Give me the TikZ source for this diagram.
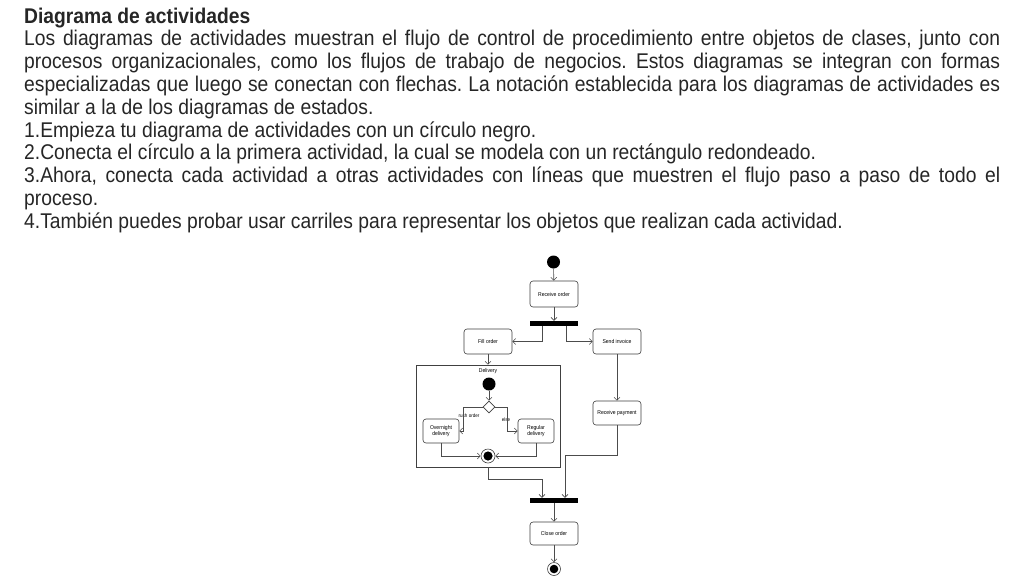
\documentclass[tikz,border=0pt]{standalone}
\usepackage{fontspec}
\setmainfont[FakeStretch=0.905]{Liberation Sans}
\usetikzlibrary{arrows.meta,shapes.geometric,calc}
\frenchspacing
\tikzset{
  txt/.style={anchor=base west,inner sep=0pt,text=black!85},
  act/.style={draw=black!75,line width=0.6pt,rounded corners=3pt,fill=white,minimum width=48pt,align=center,font=\fontsize{5.6}{6.4}\selectfont,inner sep=1pt,text=black},
  bar/.style={fill=black,draw=none,minimum width=48pt,minimum height=5pt,inner sep=0pt},
  flow/.style={draw=black!70,line width=0.6pt,-{Straight Barb[length=3pt,width=6pt]}},
  lbl/.style={font=\fontsize{5}{5.5}\selectfont,inner sep=0.5pt,text=black},
}
\newcommand{\jline}[1]{\makebox[976pt][s]{#1}}
\begin{document}
\begin{tikzpicture}[x=1pt,y=-1pt]
\useasboundingbox (0,0) rectangle (1024,576);
\fill[white] (0,0) rectangle (1024,576);
\begin{scope}[font=\fontsize{21.3}{22.8}\selectfont]
\node[txt,font=\fontsize{21.3}{22.8}\selectfont\bfseries] (t0) at (24,23) {Diagrama de actividades};
\node[txt] (t1) at (24,45.8) {\jline{Los diagramas de actividades muestran el flujo de control de procedimiento entre objetos de clases, junto con}};
\node[txt] (t2) at (24,68.6) {\jline{procesos organizacionales, como los flujos de trabajo de negocios. Estos diagramas se integran con formas}};
\node[txt] (t3) at (24,91.4) {\jline{especializadas que luego se conectan con flechas. La notación establecida para los diagramas de actividades es}};
\node[txt] (t4) at (24,114.2) {similar a la de los diagramas de estados.};
\node[txt] (t5) at (24,137) {1.Empieza tu diagrama de actividades con un círculo negro.};
\node[txt] (t6) at (24,159.8) {2.Conecta el círculo a la primera actividad, la cual se modela con un rectángulo redondeado.};
\node[txt] (t7) at (24,182.6) {\jline{3.Ahora, conecta cada actividad a otras actividades con líneas que muestren el flujo paso a paso de todo el}};
\node[txt] (t8) at (24,205.4) {proceso.};
\node[txt] (t9) at (24,228.2) {4.También puedes probar usar carriles para representar los objetos que realizan cada actividad.};
\end{scope}
% diagram
\node[circle,fill=black,minimum size=13pt,inner sep=0pt] (init) at (553.5,262) {};
\node[act,minimum height=26pt] (recv) at (554,294) {Receive order};
\node[bar] (fork) at (554,323.5) {};
\node[act,minimum height=25pt] (fill) at (488,341.5) {Fill order};
\node[act,minimum height=25pt] (send) at (617,341.5) {Send invoice};
\node[draw=black!75,line width=0.6pt,minimum width=144pt,minimum height=102pt,inner sep=0pt] (delivery) at (488,416) {};
\node[lbl,font=\fontsize{5.6}{6.4}\selectfont] (dlabel) at (488,371) {Delivery};
\node[circle,fill=black,minimum size=13pt,inner sep=0pt] (dinit) at (489,384) {};
\node[diamond,draw=black!75,line width=0.6pt,fill=white,minimum width=12pt,minimum height=12pt,inner sep=0pt] (dec) at (489,407) {};
\node[act,minimum width=36pt,minimum height=24pt] (over) at (441,431) {Overnight\\delivery};
\node[act,minimum width=36pt,minimum height=24pt] (reg) at (536,431) {Regular\\delivery};
\node[circle,draw=black!75,line width=0.6pt,fill=white,minimum size=14pt,inner sep=0pt] (dfinal) at (488,456) {};
\fill[black] (dfinal.center) circle (4.6pt);
\node[lbl] (rush) at (469,416) {rush order};
\node[lbl] (else) at (506,420) {else};
\node[act,minimum height=24pt] (pay) at (617,413) {Receive payment};
\node[bar] (join) at (554,500.5) {};
\node[act,minimum height=23pt] (close) at (554,533.5) {Close order};
\node[circle,draw=black!75,line width=0.6pt,fill=white,minimum size=13pt,inner sep=0pt] (final) at (554,569) {};
\fill[black] (final.center) circle (4.3pt);
% connectors
\draw[flow] (init) -- (recv);
\draw[flow] (recv) -- (fork);
\draw[flow] ([xshift=-12pt]fork.south) |- (fill.east);
\draw[flow] ([xshift=12pt]fork.south) |- (send.west);
\draw[flow] (fill) -- (delivery.north);
\draw[flow] (send) -- (pay);
\draw[flow] (dinit) -- (dec);
\draw[flow] (dec.west) -- ++(-19,0) |- (over.east);
\draw[flow] (dec.east) -- ++(12,0) |- (reg.west);
\draw[flow] (over.south) |- (dfinal.west);
\draw[flow] (reg.south) |- (dfinal.east);
\draw[flow] (delivery.south) -- ++(0,12) -| ([xshift=-12pt]join.north);
\draw[flow] (pay.south) -- ++(0,30) -| ([xshift=11pt]join.north);
\draw[flow] (join) -- (close);
\draw[flow] (close) -- (final);
\end{tikzpicture}
\end{document}
